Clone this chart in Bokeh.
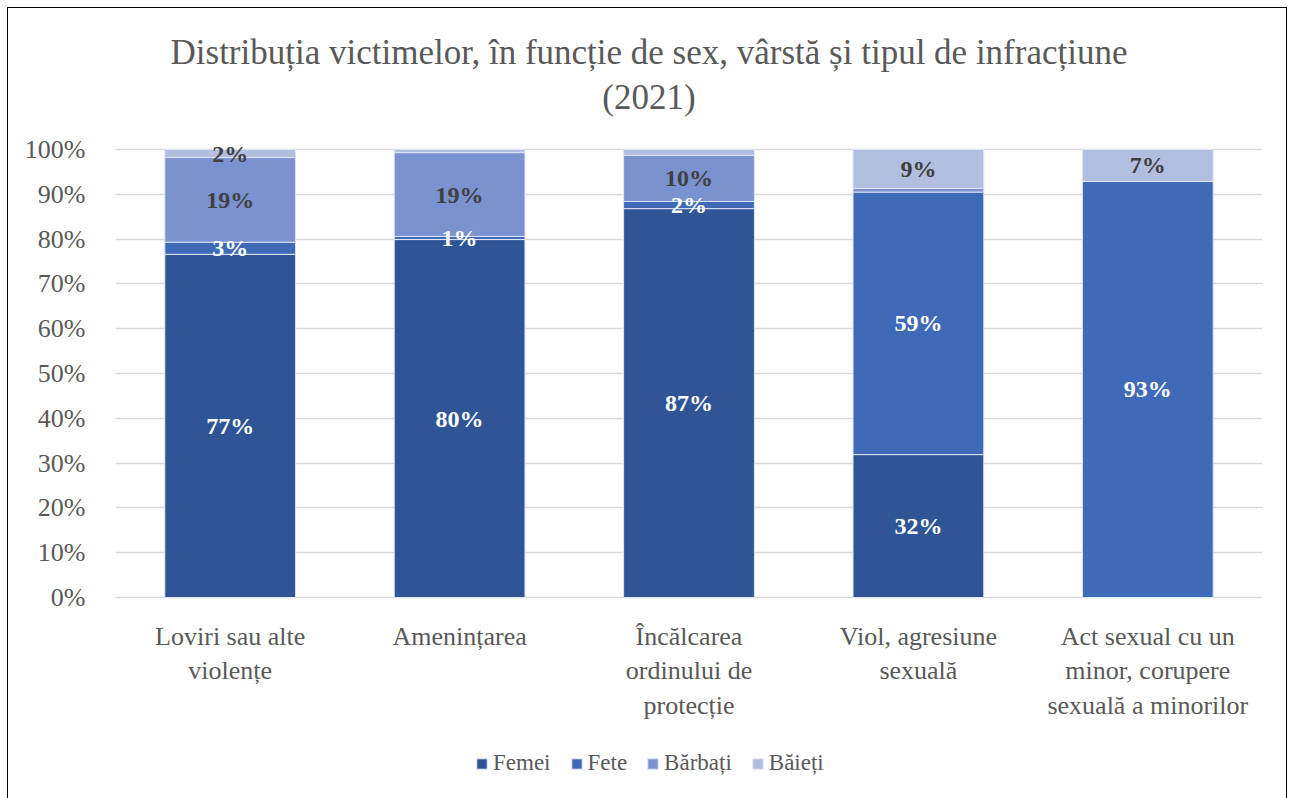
from bokeh.plotting import figure
from bokeh.models import Range1d, FactorRange, FixedTicker, PrintfTickFormatter, Legend, LegendItem, ColumnDataSource
from bokeh.core.properties import value
from bokeh.embed import file_html
from bokeh.resources import INLINE

categories = [
    "Loviri sau alte\nviolențe",
    "Amenințarea",
    "Încălcarea\nordinului de\nprotecție",
    "Viol, agresiune\nsexuală",
    "Act sexual cu un\nminor, corupere\nsexuală a minorilor",
]
series = ["Femei", "Fete", "Bărbați", "Băieți"]
femei = [76.6, 79.9, 86.8, 31.9, 0.0]
fete = [2.7, 0.7, 1.6, 58.6, 92.9]
barbati = [18.9, 18.7, 10.3, 0.8, 0.0]
baieti = [1.8, 0.7, 1.3, 8.7, 7.1]
show_femei = [1, 1, 1, 1, 0]
show_fete = [1, 1, 1, 1, 1]
show_barbati = [1, 1, 1, 0, 0]
show_baieti = [1, 0, 0, 1, 1]
y_ticks = [0, 10, 20, 30, 40, 50, 60, 70, 80, 90, 100]
title_main = "Distribuția victimelor, în funcție de sex, vârstă și tipul de infracțiune"
title_sub = "(2021)"

colors = ["#2f5597", "#3e6ab8", "#7a92cf", "#b2bee0"]
label_colors = ["#ffffff", "#ffffff", "#404040", "#404040"]
FONT = "Liberation Serif"
GRAY = "#595959"

# layout constants (pixels)
W, H = 1278, 790
TOP_PX, BOTTOM_PX = 141, 201
PLOT_PX = 448
PX = PLOT_PX / 100.0

values = [femei, fete, barbati, baieti]
shows = [show_femei, show_fete, show_barbati, show_baieti]

data = {"cat": categories}
for s, v in zip(series, values):
    data[s] = v
source = ColumnDataSource(data)

p = figure(
    width=W, height=H,
    x_range=FactorRange(*categories),
    y_range=Range1d(-BOTTOM_PX / PX, 100 + TOP_PX / PX),
    output_backend="svg", toolbar_location=None,
    x_axis_location=None,
    min_border_left=107, min_border_right=24, min_border_top=0, min_border_bottom=0,
    styles={"outline": "1.5px solid #000000"},
    margin=(8, 0, 0, 8),
)
p.outline_line_color = None
p.background_fill_color = "white"
p.border_fill_color = "white"

p.xgrid.grid_line_color = None
p.ygrid.ticker = FixedTicker(ticks=y_ticks)
p.ygrid.grid_line_color = "#d9d9d9"
p.ygrid.grid_line_width = 1.5

renderers = p.vbar_stack(series, x="cat", width=0.57, source=source, color=colors,
                         line_color="#dfe5f3", line_width=1)

# data labels
for i, (s, v, sh) in enumerate(zip(series, values, shows)):
    xs, ys, txt = [], [], []
    for j, cat in enumerate(categories):
        base = sum(values[k][j] for k in range(i))
        if sh[j]:
            xs.append(cat)
            ys.append(base + v[j] / 2)
            txt.append(f"{round(v[j])}%")
    p.text(x=xs, y=ys, text=txt, text_align="center", text_baseline="middle",
           text_font=value(FONT), text_font_size="24px", text_font_style="bold",
           text_color=label_colors[i])

# category labels below the baseline
p.text(x=categories, y=[-24 / PX] * len(categories), text=categories,
       text_align="center", text_baseline="top", text_line_height=1.2,
       text_font=value(FONT), text_font_size="26px", text_color=GRAY)

# title (two centred lines)
mid = categories[2]
p.text(x=[mid, mid], y=[100 + 97 / PX, 100 + 52 / PX], text=[title_main, title_sub],
       x_offset=-40, text_align="center", text_baseline="middle",
       text_font=value(FONT), text_font_size="35px", text_color=GRAY)

p.yaxis.ticker = FixedTicker(ticks=y_ticks)
p.yaxis.formatter = PrintfTickFormatter(format="%d%%")
p.yaxis.axis_line_color = None
p.yaxis.major_tick_line_color = None
p.yaxis.minor_tick_line_color = None
p.yaxis.major_label_text_font = FONT
p.yaxis.major_label_text_font_size = "26px"
p.yaxis.major_label_text_color = GRAY
p.yaxis.major_label_standoff = 24

legend = Legend(items=[LegendItem(label=s, renderers=[r]) for s, r in zip(series, renderers)],
                orientation="horizontal", location=(360, 22))
legend.label_text_font = FONT
legend.label_text_font_size = "23px"
legend.label_text_color = GRAY
legend.glyph_width = 13
legend.glyph_height = 13
legend.spacing = 19
legend.label_standoff = 5
legend.padding = 0
legend.margin = 0
legend.border_line_color = None
legend.background_fill_alpha = 0
p.add_layout(legend, "center")

open("out.html", "w").write(file_html(p, INLINE))
